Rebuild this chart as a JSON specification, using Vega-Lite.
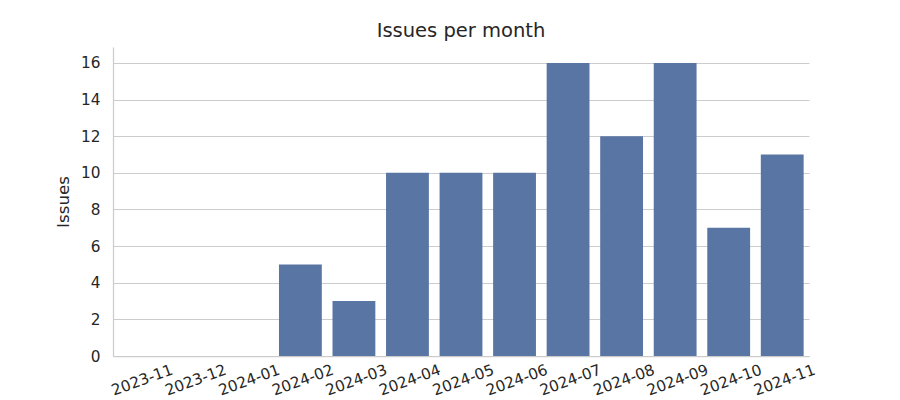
{
  "$schema": "https://vega.github.io/schema/vega-lite/v6.json",
  "autosize": {"type": "none"},
  "width": 696,
  "height": 309,
  "padding": {"left": 113, "top": 47, "right": 91, "bottom": 44},
  "background": "white",
  "title": {"text": "Issues per month", "font": "DejaVu Sans", "fontSize": 19.5, "fontWeight": "normal", "color": "#262626", "offset": 6},
  "data": {"values": [
    {"month": "2023-11", "issues": 0},
    {"month": "2023-12", "issues": 0},
    {"month": "2024-01", "issues": 0},
    {"month": "2024-02", "issues": 5},
    {"month": "2024-03", "issues": 3},
    {"month": "2024-04", "issues": 10},
    {"month": "2024-05", "issues": 10},
    {"month": "2024-06", "issues": 10},
    {"month": "2024-07", "issues": 16},
    {"month": "2024-08", "issues": 12},
    {"month": "2024-09", "issues": 16},
    {"month": "2024-10", "issues": 7},
    {"month": "2024-11", "issues": 11}
  ]},
  "mark": {"type": "bar", "color": "#5875a4", "strokeWidth": 0},
  "encoding": {
    "x": {"field": "month", "type": "ordinal", "sort": null,
      "scale": {"paddingInner": 0.2, "paddingOuter": 0.1},
      "axis": {"title": null, "labelAngle": -20, "labelAlign": "center", "labelBaseline": "top", "labelPadding": 17, "ticks": false, "grid": false,
        "labelFont": "DejaVu Sans", "labelFontSize": 15.3, "labelColor": "#262626", "domainColor": "#cccccc", "domainWidth": 1.25}},
    "y": {"field": "issues", "type": "quantitative",
      "scale": {"domain": [0, 16.87], "nice": false},
      "axis": {"title": "Issues", "values": [0, 2, 4, 6, 8, 10, 12, 14, 16], "ticks": false, "labelPadding": 13, "titlePadding": 8,
        "labelFont": "DejaVu Sans", "labelFontSize": 15.3, "labelColor": "#262626",
        "titleFont": "DejaVu Sans", "titleFontSize": 16.7, "titleFontWeight": "normal", "titleColor": "#262626",
        "grid": true, "gridColor": "#cccccc", "gridWidth": 1, "domainColor": "#cccccc", "domainWidth": 1.25}}
  },
  "config": {"view": {"stroke": null}}
}
